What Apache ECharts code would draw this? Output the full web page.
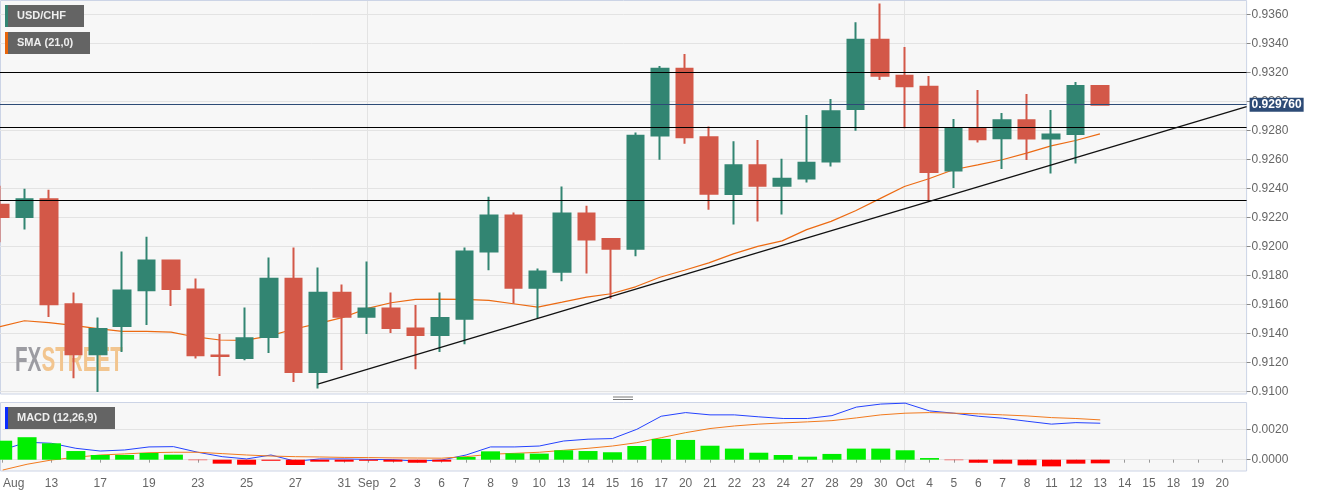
<!DOCTYPE html>
<html><head><meta charset="utf-8">
<script src="https://cdn.jsdelivr.net/npm/echarts@6/dist/echarts.min.js"></script>
<style>html,body{margin:0;padding:0;background:#fff}#c{width:1323px;height:497px}</style>
</head><body><div id="c"></div>
<script>
// ---- data ----
const dayLabels = ['Aug','12','13','16','17','18','19','20','23','24','25','26','27','30','31',
  'Sep','2','3','6','7','8','9','10','13','14','15','16','17','20','21','22','23','24','27','28','29','30',
  'Oct','4','5','6','7','8','11','12','13','14','15','18','19','20','21'];
const opens  = [0.92286,0.92202,0.92323,0.91599,0.91255,0.91449,0.91697,0.91901,0.91702,0.91246,0.91229,0.91374,0.91775,0.91133,0.91679,0.91514,0.91571,0.91433,0.91387,0.91500,0.91963,0.92211,0.91713,0.91824,0.92226,0.92050,0.91982,0.92763,0.93224,0.92752,0.92360,0.92559,0.92417,0.92467,0.92584,0.92947,0.93423,0.93176,0.93100,0.92522,0.92809,0.92745,0.92869,0.92742,0.92773,0.93105];
const closes = [0.92202,0.92323,0.91599,0.91255,0.91429,0.91695,0.91901,0.91704,0.91248,0.91243,0.91365,0.91775,0.91133,0.91679,0.91514,0.91571,0.91436,0.91387,0.91504,0.91963,0.92211,0.91713,0.91826,0.92226,0.92046,0.91982,0.92761,0.93224,0.92752,0.92362,0.92559,0.92417,0.92465,0.92575,0.92931,0.93423,0.93176,0.93103,0.92511,0.92814,0.92738,0.92869,0.92742,0.92770,0.93105,0.92976];
const lows   = [0.92027,0.92116,0.91511,0.91090,0.90995,0.91270,0.91456,0.91587,0.91225,0.91105,0.91213,0.91264,0.91064,0.91019,0.91147,0.91394,0.91401,0.91151,0.91270,0.91323,0.91834,0.91605,0.91504,0.91759,0.91812,0.91638,0.91931,0.92596,0.92706,0.92252,0.92149,0.92171,0.92218,0.92440,0.92550,0.92797,0.93146,0.92814,0.92309,0.92401,0.92715,0.92532,0.92594,0.92502,0.92570,0.92969];
const highs  = [0.92417,0.92396,0.92390,0.91681,0.91509,0.91963,0.92066,0.91901,0.91777,0.91394,0.91578,0.91922,0.91991,0.91853,0.91736,0.91894,0.91681,0.91594,0.91681,0.91991,0.92341,0.92233,0.91846,0.92412,0.92279,0.92055,0.92784,0.93242,0.93325,0.92825,0.92724,0.92733,0.92603,0.92905,0.93015,0.93545,0.93674,0.93373,0.93174,0.92878,0.93077,0.92919,0.93050,0.92940,0.93132,0.93105];
const sma21  = [0.91445,0.91486,0.91473,0.91454,0.91431,0.91413,0.91413,0.91408,0.91374,0.91353,0.91351,0.91380,0.91427,0.91466,0.91507,0.91569,0.91610,0.91633,0.91635,0.91633,0.91626,0.91603,0.91580,0.91614,0.91649,0.91672,0.91720,0.91786,0.91834,0.91885,0.91947,0.91999,0.92037,0.92114,0.92171,0.92245,0.92328,0.92412,0.92465,0.92527,0.92561,0.92596,0.92642,0.92692,0.92729,0.92775];
const macdLine   = [0.00065,0.00115,0.00108,0.00075,0.00057,0.00064,0.00084,0.00086,0.00049,0.00020,0.00005,0.00031,-0.00010,0.00005,0.00005,0.00002,0.00000,-0.00009,-0.00002,0.00031,0.00084,0.00084,0.00090,0.00123,0.00135,0.00139,0.00200,0.00286,0.00310,0.00295,0.00295,0.00282,0.00271,0.00271,0.00290,0.00346,0.00366,0.00372,0.00321,0.00306,0.00286,0.00273,0.00253,0.00234,0.00244,0.00240];
const signalLine = [-0.00068,-0.00030,-0.00002,0.00016,0.00031,0.00038,0.00046,0.00049,0.00049,0.00040,0.00031,0.00024,0.00020,0.00018,0.00015,0.00014,0.00012,0.00011,0.00010,0.00020,0.00036,0.00042,0.00049,0.00062,0.00075,0.00090,0.00112,0.00145,0.00178,0.00205,0.00222,0.00234,0.00242,0.00249,0.00257,0.00275,0.00295,0.00306,0.00310,0.00306,0.00302,0.00295,0.00288,0.00277,0.00271,0.00262];
const macdHist   = [0.00125,0.00148,0.00108,0.00057,0.00031,0.00031,0.00044,0.00033,-0.00003,-0.00026,-0.00033,-0.00007,-0.00035,-0.00013,-0.00013,-0.00007,-0.00013,-0.00020,-0.00013,0.00018,0.00055,0.00042,0.00040,0.00062,0.00057,0.00049,0.00090,0.00137,0.00130,0.00092,0.00073,0.00046,0.00031,0.00020,0.00038,0.00073,0.00073,0.00062,0.00011,-0.00003,-0.00020,-0.00026,-0.00037,-0.00044,-0.00026,-0.00024];
const levels = [0.9320, 0.9282, 0.9232];
const lastPrice = 0.929760;
const trendLine = [[13, 0.91048], [51, 0.92962]];
const monthStarts = [15, 37];
const priceTicks = {min: 0.9100, max: 0.9360, interval: 0.0020};
const macdTicks = {min: 0, max: 0.0020, interval: 0.0020};

// ---- styles ----
const UP = '#328572', DOWN = '#d35848';
const FONT = "'Liberation Sans', Arial, sans-serif";
const FRAME = '#ccd4e6';
const showIdx = i => i <= 14 ? i % 2 === 0 : i <= 50;

const candles = opens.map((o, i) => [o, closes[i], lows[i], highs[i]]);

const chart = echarts.init(document.getElementById('c'), null, {renderer: 'canvas'});
const option = {
  animation: false,
  backgroundColor: '#ffffff',
  grid: [
    {left: 0, right: 76.4, top: 14.2, height: 377},
    {left: 0, right: 76.4, top: 429.3, height: 30.4}
  ],
  xAxis: [
    {type: 'category', gridIndex: 0, data: dayLabels, boundaryGap: false,
     axisLine: {show: false}, axisTick: {show: false}, axisLabel: {show: false}, splitLine: {show: false}},
    {type: 'category', gridIndex: 1, data: dayLabels, boundaryGap: false, offset: 11.3,
     axisLine: {show: false},
     axisTick: {show: true, length: 3, interval: (i) => showIdx(i), lineStyle: {color: '#999'}},
     axisLabel: {show: true, interval: (i) => showIdx(i), margin: 7, color: '#666', fontSize: 12, fontFamily: FONT,
       formatter: (v, i) => i === 0 ? '{first|' + v + '}' : v,
       rich: {first: {padding: [0, 0, 0, 22], color: '#666', fontSize: 12, fontFamily: FONT}}},
     splitLine: {show: false}}
  ],
  yAxis: [
    {type: 'value', gridIndex: 0, position: 'right', min: priceTicks.min, max: priceTicks.max, interval: priceTicks.interval,
     axisLine: {show: false}, axisTick: {show: true, length: 4, lineStyle: {color: '#888'}},
     axisLabel: {margin: 5, color: '#666', fontSize: 12, fontFamily: FONT, formatter: v => v.toFixed(4)},
     splitLine: {show: true, lineStyle: {color: '#e3e3e3', width: 1}}},
    {type: 'value', gridIndex: 1, position: 'right', min: macdTicks.min, max: macdTicks.max, interval: macdTicks.interval,
     axisLine: {show: false}, axisTick: {show: true, length: 4, lineStyle: {color: '#888'}},
     axisLabel: {margin: 5, color: '#666', fontSize: 12, fontFamily: FONT, formatter: v => v.toFixed(4)},
     splitLine: {show: true, lineStyle: {color: '#e3e3e3', width: 1}}}
  ],
  series: [
    {name: 'SMA (21,0)', type: 'line', xAxisIndex: 0, yAxisIndex: 0, data: sma21, showSymbol: false, clip: false,
     lineStyle: {color: '#ec6a12', width: 1.2}, z: 2},
    {name: 'USD/CHF', type: 'candlestick', xAxisIndex: 0, yAxisIndex: 0, data: candles, barWidth: 17, clip: false, z: 3,
     itemStyle: {color: UP, color0: DOWN, borderColor: UP, borderColor0: DOWN, borderWidth: 2},
     markLine: {
       silent: true, symbol: ['none', 'none'], animation: false, precision: 6,
       data: [
         ...levels.map(v => ({yAxis: v, lineStyle: {color: '#000', width: 1.2, type: 'solid'}, label: {show: false}})),
         {yAxis: lastPrice, lineStyle: {color: '#2d4b76', width: 1.2, type: 'solid'},
          label: {show: true, position: 'end', distance: 3, formatter: lastPrice.toFixed(6),
                  backgroundColor: '#2d4b76', color: '#fff', fontWeight: 'bold', fontSize: 12, fontFamily: FONT,
                  padding: [1, 2, 1, 2], lineHeight: 12}},
         [{coord: trendLine[0], lineStyle: {color: '#111', width: 1.3, type: 'solid'}, label: {show: false}},
          {coord: trendLine[1]}]
       ]
     }},
    {name: 'MACD', type: 'line', xAxisIndex: 1, yAxisIndex: 1, data: macdLine, showSymbol: false, clip: false,
     lineStyle: {color: '#2442ff', width: 1}, z: 2},
    {name: 'Signal', type: 'line', xAxisIndex: 1, yAxisIndex: 1, data: signalLine, showSymbol: false, clip: false,
     lineStyle: {color: '#f27a1e', width: 1}, z: 2},
    {name: 'Hist', type: 'bar', xAxisIndex: 1, yAxisIndex: 1, data: macdHist, barWidth: 19, clip: false, z: 3,
     itemStyle: {color: p => p.value >= 0 ? '#00ee00' : '#ff0000'}}
  ]
};
chart.setOption(option);

// ---- decorations (panels, month separators, labels, watermark) ----
const W = 1246.6;
const mx = monthStarts.map(i => chart.convertToPixel({xAxisIndex: 0}, i));
function labelBox(x, y, w, stripe, txt) {
  return {type: 'group', x: x, y: y, z: 100, children: [
    {type: 'rect', shape: {x: 0, y: 0, width: w, height: 22}, style: {fill: '#646464'}, z: 100},
    {type: 'rect', shape: {x: 0, y: 0, width: 3, height: 22}, style: {fill: stripe}, z: 101},
    {type: 'text', x: 12, y: 11, z: 101, style: {text: txt, fill: '#eeeeee', font: 'bold 11px ' + FONT, verticalAlign: 'middle'}}
  ]};
}
const graphics = [
  {type: 'rect', z: -1, shape: {x: 0.5, y: 0.5, width: W - 0.5, height: 393.5}, style: {fill: '#f7f7f7', stroke: FRAME, lineWidth: 1}},
  {type: 'rect', z: -1, shape: {x: 0.5, y: 402.5, width: W - 0.5, height: 68.5}, style: {fill: '#f7f7f7', stroke: FRAME, lineWidth: 1}},
  {type: 'line', z: 50, shape: {x1: 613, y1: 397, x2: 633, y2: 397}, style: {stroke: '#777', lineWidth: 1}},
  {type: 'line', z: 50, shape: {x1: 613, y1: 399.5, x2: 633, y2: 399.5}, style: {stroke: '#777', lineWidth: 1}},
  ...mx.map(x => ({type: 'line', z: -1, shape: {x1: Math.round(x) + 0.5, y1: 1, x2: Math.round(x) + 0.5, y2: 394}, style: {stroke: '#e3e3e3', lineWidth: 1}})),
  ...mx.map(x => ({type: 'line', z: -1, shape: {x1: Math.round(x) + 0.5, y1: 403, x2: Math.round(x) + 0.5, y2: 471}, style: {stroke: '#e3e3e3', lineWidth: 1}})),
  {type: 'text', x: 15, y: 361, z: 1, scaleX: 0.59,
   style: {text: '{a|FX}{b|STREET}', verticalAlign: 'middle',
     rich: {a: {fill: '#9c9ca2', font: "bold 35px 'Liberation Sans', sans-serif"},
            b: {fill: '#f2c58f', font: "bold 35px 'Liberation Sans', sans-serif"}}}},
  labelBox(5, 5, 79, '#328572', 'USD/CHF'),
  labelBox(5, 32, 85, '#e8650a', 'SMA (21,0)'),
  labelBox(5, 407, 110, '#0a2cff', 'MACD (12,26,9)')
];
chart.setOption({graphic: graphics});
</script>
</body></html>
